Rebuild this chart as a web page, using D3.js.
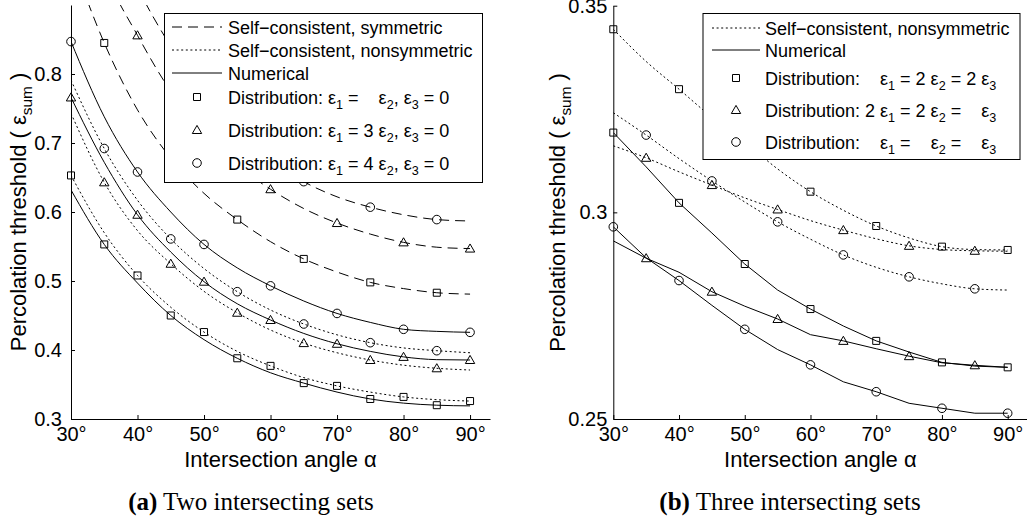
<!DOCTYPE html>
<html><head><meta charset="utf-8">
<script src="https://cdn.jsdelivr.net/npm/d3@7"></script>
<style>
body{margin:0;background:#fff;}
svg{display:block;}
text{font-family:"Liberation Sans",Arial,Helvetica,sans-serif;fill:#000;white-space:pre;}
.cap{font-family:"Liberation Serif","Times New Roman",serif;}
</style></head><body>
<svg id="chart" width="1027" height="522"></svg>
<script>
// ---------------- DATA ----------------
const angles = [30,35,40,45,50,55,60,65,70,75,80,85,90];
const xTicks = [30,40,50,60,70,80,90];
const marksA = [30,40,50,60,70,80,90];
const marksB = [35,45,55,65,75,85];

// (a) two intersecting sets
const yTicksA = [0.3,0.4,0.5,0.6,0.7,0.8];
const yLabelsA = ["0.3","0.4","0.5","0.6","0.7","0.8"];
const symSquareA   = [0.97,0.845,0.748,0.678,0.627,0.589,0.557,0.532,0.513,0.498,0.489,0.483,0.481];
const symTriangleA = [1.10,0.95,0.856,0.775,0.715,0.668,0.633,0.605,0.584,0.568,0.556,0.549,0.547];
const symCircleA   = [1.16,1.03,0.925,0.84,0.77,0.718,0.676,0.644,0.622,0.607,0.596,0.589,0.587];
const nonSquareA   = [0.653,0.570,0.508,0.462,0.426,0.398,0.377,0.360,0.348,0.339,0.332,0.328,0.326];
const nonTriangleA = [0.743,0.643,0.573,0.525,0.485,0.454,0.429,0.410,0.396,0.3855,0.378,0.3735,0.371];
const nonCircleA   = [0.791,0.692,0.617,0.561,0.518,0.4845,0.458,0.4377,0.422,0.4106,0.403,0.399,0.396];
const numSquareA   = [0.632,0.553,0.497,0.450,0.415,0.388,0.367,0.352,0.339,0.329,0.323,0.320,0.319];
const numTriangleA = [0.766,0.672,0.596,0.542,0.499,0.467,0.4435,0.424,0.409,0.398,0.390,0.386,0.3855];
const numCircleA   = [0.847,0.738,0.658,0.600,0.553,0.519,0.493,0.471,0.453,0.440,0.430,0.427,0.4256];

// (b) three intersecting sets
const yTicksB = [0.25,0.3,0.35];
const yLabelsB = ["0.25","0.3","0.35"];
const nonSquareB   = [0.3443,0.3365,0.3298,0.3230,0.3170,0.3105,0.3050,0.3005,0.2967,0.2938,0.2917,0.2910,0.2909];
const nonTriangleB = [0.3161,0.3132,0.3098,0.3066,0.3035,0.3007,0.2980,0.2957,0.2936,0.2919,0.2910,0.2907,0.2906];
const nonCircleB   = [0.3241,0.3187,0.3130,0.3076,0.3025,0.2977,0.2935,0.2897,0.2867,0.2844,0.2827,0.2815,0.2812];
const numSquareB   = [0.3193,0.3110,0.3023,0.2950,0.2875,0.2812,0.2766,0.2725,0.2689,0.2662,0.2637,0.2628,0.2625];
const numTriangleB = [0.2931,0.2889,0.2855,0.2808,0.2773,0.2742,0.2704,0.2689,0.2670,0.2652,0.2636,0.2630,0.2625];
const numCircleB   = [0.2965,0.2890,0.2835,0.2775,0.2717,0.2668,0.2631,0.2590,0.2566,0.2538,0.2526,0.2514,0.2514];

const xLabel = "Intersection angle α";
const captionA = ["(a)", " Two intersecting sets"];
const captionB = ["(b)", " Three intersecting sets"];

// legend texts: segments {t}, {s: subscript}, {g: blank digit gap}
const legendA = [
  {style:"dash", segs:[{t:"Self−consistent, symmetric"}]},
  {style:"dot", segs:[{t:"Self−consistent, nonsymmetric"}]},
  {style:"solid", segs:[{t:"Numerical"}]},
  {marker:"square", segs:[{t:"Distribution: ε"},{s:"1"},{t:" = "},{g:1},{t:" ε"},{s:"2"},{t:", ε"},{s:"3"},{t:" = 0"}]},
  {marker:"triangle", segs:[{t:"Distribution: ε"},{s:"1"},{t:" = 3 ε"},{s:"2"},{t:", ε"},{s:"3"},{t:" = 0"}]},
  {marker:"circle", segs:[{t:"Distribution: ε"},{s:"1"},{t:" = 4 ε"},{s:"2"},{t:", ε"},{s:"3"},{t:" = 0"}]}
];
const legendB = [
  {style:"dot", segs:[{t:"Self−consistent, nonsymmetric"}]},
  {style:"solid", segs:[{t:"Numerical"}]},
  {marker:"square", segs:[{t:"Distribution: "},{g:1},{t:" ε"},{s:"1"},{t:" = 2 ε"},{s:"2"},{t:" = 2 ε"},{s:"3"}]},
  {marker:"triangle", segs:[{t:"Distribution: 2 ε"},{s:"1"},{t:" = 2 ε"},{s:"2"},{t:" = "},{g:1},{t:" ε"},{s:"3"}]},
  {marker:"circle", segs:[{t:"Distribution: "},{g:1},{t:" ε"},{s:"1"},{t:" = "},{g:1},{t:" ε"},{s:"2"},{t:" = "},{g:1},{t:" ε"},{s:"3"}]}
];

// ---------------- DRAW ----------------
const svg = d3.select("#chart");
const dashes = {dash:"10,6", dot:"2,2.6", solid:null};
const symTypes = {square:d3.symbolSquare, triangle:d3.symbolTriangle, circle:d3.symbolCircle};
const symSizes = {square:49, triangle:38, circle:58};

function richText(sel, segs, fs){
  let dx = 0, inSub = false;
  segs.forEach(s=>{
    if (s.g){ dx += s.g*0.556*fs; return; }
    const ts = sel.append("tspan");
    if (s.s!==undefined){
      ts.text(s.s).style("font-size",(0.7*fs)+"px");
      if(!inSub){ ts.attr("dy", 0.28*fs); inSub = true; }
    } else {
      ts.text(s.t);
      if(inSub){ ts.attr("dy", -0.28*fs); inSub = false; }
    }
    if (dx){ ts.attr("dx", dx); dx = 0; }
  });
}

function panel(cfg){
  const x = d3.scaleLinear().domain([30,93]).range(cfg.xr);
  const y = d3.scaleLinear().domain(cfg.yd).range(cfg.yr);
  const g = svg.append("g");
  const id = "clip"+cfg.id;
  svg.append("defs").append("clipPath").attr("id",id).append("rect")
    .attr("x",cfg.xr[0]).attr("y",cfg.yr[1]).attr("width",cfg.xr[1]-cfg.xr[0]).attr("height",cfg.yr[0]-cfg.yr[1]);

  const lg = g.append("g").attr("clip-path",`url(#${id})`);
  cfg.series.forEach(s=>{
    const line = d3.line().x((d,i)=>x(angles[i])).y(d=>y(d))
      .curve(s.style==="solid" && cfg.linearNum ? d3.curveLinear : d3.curveMonotoneX);
    lg.append("path").attr("d", line(s.values)).attr("fill","none")
      .attr("stroke","#000").attr("stroke-width",1)
      .attr("stroke-dasharray", dashes[s.style]);
  });
  cfg.series.forEach(s=>{
    const pts = angles.map((a,i)=>[a,s.values[i]]).filter(p=>s.marks.includes(p[0]) && p[1]<=cfg.yd[1] && p[1]>=cfg.yd[0]);
    g.selectAll(null).data(pts).enter().append("path")
      .attr("d", d3.symbol().type(symTypes[s.marker]).size(symSizes[s.marker]))
      .attr("transform", p=>`translate(${x(p[0])},${y(p[1]) + (s.marker==="triangle"?0.8:0)})`)
      .attr("fill","none").attr("stroke","#000").attr("stroke-width",1);
  });

  // axes
  const xa = g.append("g").attr("transform",`translate(0,${cfg.yr[0]})`)
    .call(d3.axisBottom(x).tickValues(xTicks).tickFormat(d=>d+"°").tickSize(-4).tickSizeOuter(0).tickPadding(8));
  const ya = g.append("g").attr("transform",`translate(${cfg.xr[0]},0)`)
    .call(d3.axisLeft(y).tickValues(cfg.yTicks).tickFormat((d,i)=>cfg.yLabels[i]).tickSize(-4).tickSizeOuter(0).tickPadding(cfg.ypad));
  [xa,ya].forEach(a=>{
    a.attr("font-family",null).attr("font-size",null);
    a.selectAll("text").style("font-size","20px").attr("fill","#000");
    a.selectAll("path,line").attr("stroke","#000");
  });

  // labels
  const xc = (cfg.xr[0]+cfg.xr[1])/2;
  g.append("text").attr("x",xc).attr("y",467).attr("text-anchor","middle").style("font-size","22px").text(xLabel);
  const yl = g.append("text").attr("transform",`translate(${cfg.ylx},${(cfg.yr[0]+cfg.yr[1])/2}) rotate(-90)`)
    .attr("text-anchor","middle").style("font-size","22px");
  richText(yl, [{t:"Percolation threshold ( ε"},{s:"sum"},{t:" )"}], 22);

  // legend
  const L = cfg.legend;
  g.append("rect").attr("x",L.x).attr("y",L.y).attr("width",L.w).attr("height",L.h)
    .attr("fill","#fff").attr("stroke","#000").attr("stroke-width",1);
  L.items.forEach((it,i)=>{
    const cy = L.rows[i];
    if (it.style){
      g.append("line").attr("x1",L.lx[0]).attr("x2",L.lx[1]).attr("y1",cy).attr("y2",cy)
        .attr("stroke","#000").attr("stroke-width",1).attr("stroke-dasharray",dashes[it.style]);
    } else {
      g.append("path").attr("d", d3.symbol().type(symTypes[it.marker]).size(symSizes[it.marker]))
        .attr("transform",`translate(${(L.lx[0]+L.lx[1])/2},${cy + (it.marker==="triangle"?0.8:0)})`)
        .attr("fill","none").attr("stroke","#000");
    }
    const t = g.append("text").attr("x",L.tx).attr("y",cy+6.5).style("font-size","18px");
    richText(t, it.segs, 18);
  });

  // caption
  const c = g.append("text").attr("class","cap").attr("x",cfg.capx).attr("y",510)
    .attr("text-anchor","middle").style("font-size","25px");
  c.append("tspan").style("font-weight","bold").text(cfg.caption[0]);
  c.append("tspan").text(cfg.caption[1]);
}

panel({
  id:"A", xr:[71,490], yd:[0.3,0.9], yr:[419,5], yTicks:yTicksA, yLabels:yLabelsA, ypad:9, ylx:26,
  linearNum:false, capx:251, caption:captionA,
  series:[
    {values:symSquareA, style:"dash", marker:"square", marks:marksB},
    {values:symTriangleA, style:"dash", marker:"triangle", marks:marksA},
    {values:symCircleA, style:"dash", marker:"circle", marks:marksB},
    {values:nonSquareA, style:"dot", marker:"square", marks:marksA},
    {values:nonTriangleA, style:"dot", marker:"triangle", marks:marksB},
    {values:nonCircleA, style:"dot", marker:"circle", marks:marksB},
    {values:numSquareA, style:"solid", marker:"square", marks:marksB},
    {values:numTriangleA, style:"solid", marker:"triangle", marks:marksA},
    {values:numCircleA, style:"solid", marker:"circle", marks:marksA}
  ],
  legend:{x:164.5, y:13.5, w:318, h:169, lx:[172,222], tx:228, rows:[27,50,73,97,130,163], items:legendA}
});
panel({
  id:"B", xr:[613.3,1027.4], yd:[0.25,0.35], yr:[419,5.7], yTicks:yTicksB, yLabels:yLabelsB, ypad:6, ylx:565,
  linearNum:true, capx:790, caption:captionB,
  series:[
    {values:nonSquareB, style:"dot", marker:"square", marks:marksA},
    {values:nonTriangleB, style:"dot", marker:"triangle", marks:marksB},
    {values:nonCircleB, style:"dot", marker:"circle", marks:marksB},
    {values:numSquareB, style:"solid", marker:"square", marks:marksA},
    {values:numTriangleB, style:"solid", marker:"triangle", marks:marksB},
    {values:numCircleB, style:"solid", marker:"circle", marks:marksA}
  ],
  legend:{x:703, y:13.5, w:317, h:146, lx:[712,760], tx:765, rows:[28,50,78,110,142], items:legendB}
});
</script>
</body></html>
